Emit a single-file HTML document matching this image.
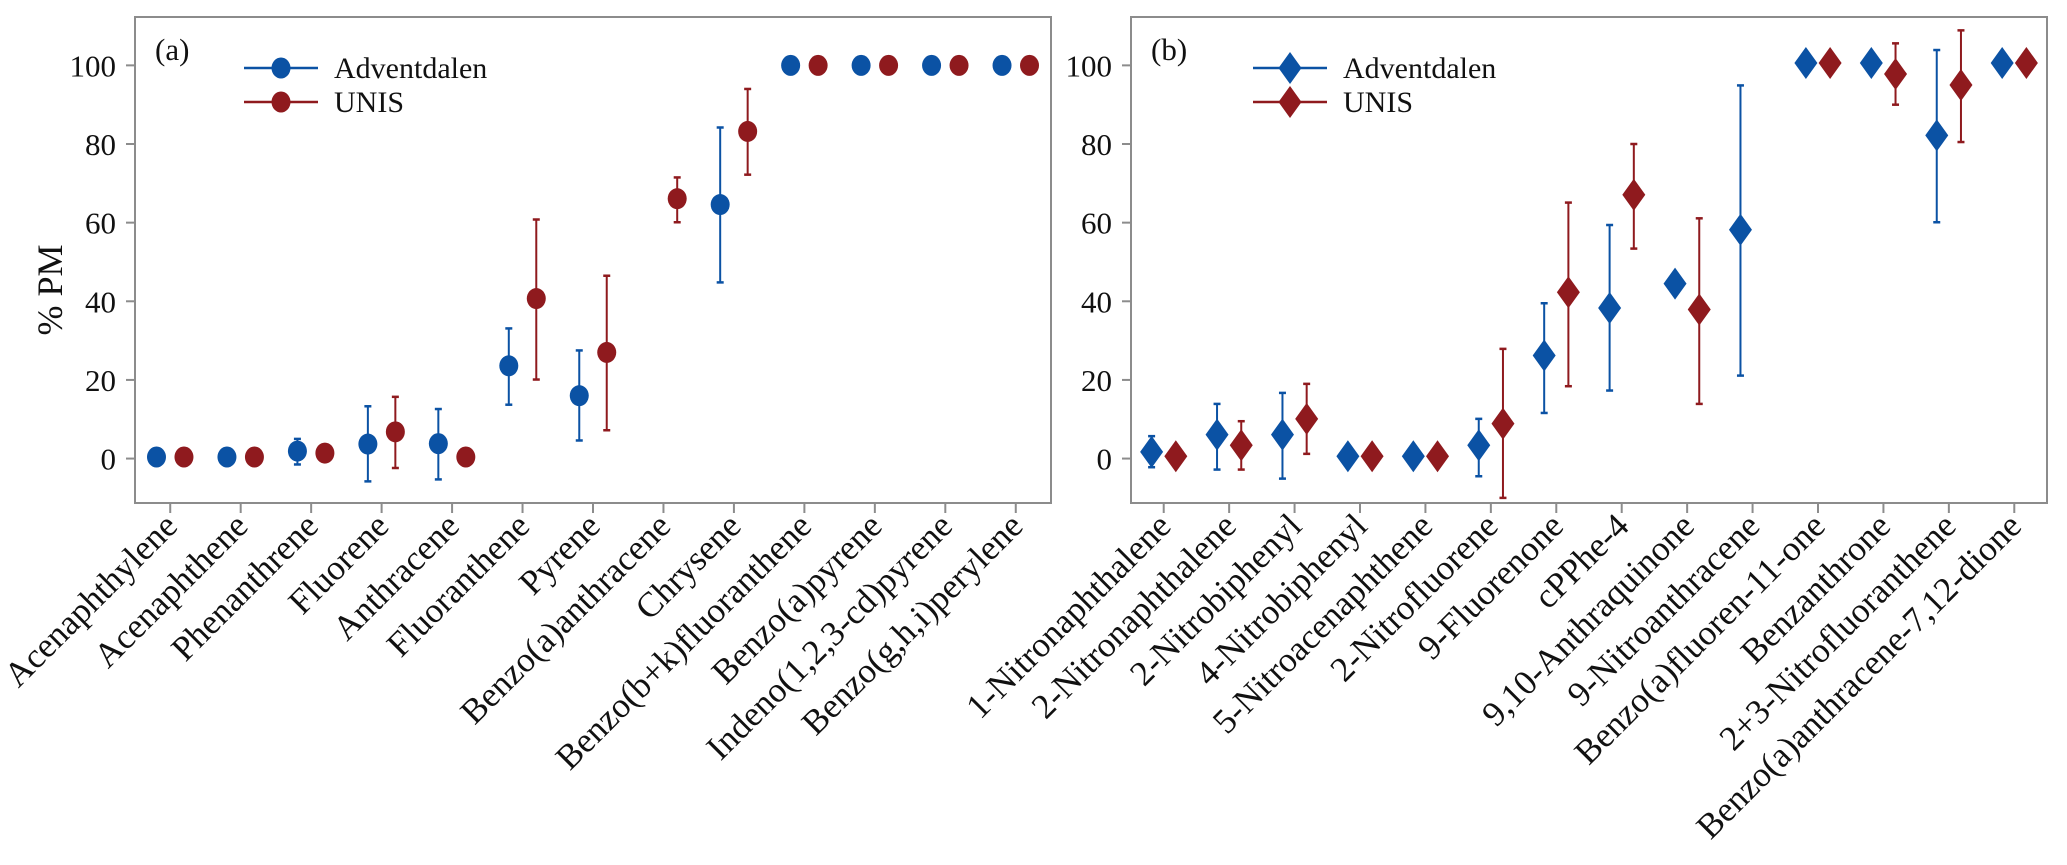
<!DOCTYPE html>
<html><head><meta charset="utf-8"><style>
html,body{margin:0;padding:0;background:#fff;}
svg{display:block;font-family:"Liberation Serif",serif;}
</style></head><body>
<svg id="chart" width="2067" height="865" viewBox="0 0 2067 865" xmlns="http://www.w3.org/2000/svg"></svg>
<script>
const catsA = ["Acenaphthylene","Acenaphthene","Phenanthrene","Fluorene","Anthracene","Fluoranthene","Pyrene","Benzo(a)anthracene","Chrysene","Benzo(b+k)fluoranthene","Benzo(a)pyrene","Indeno(1,2,3-cd)pyrene","Benzo(g,h,i)perylene"];
const advA = [0.4,0.4,1.9,3.7,3.8,23.6,16,null,64.6,100,100,100,100];
const advAHi = [null,null,5,13.3,12.6,33.1,27.5,null,84.2,null,null,null,null];
const advALo = [null,null,-1.5,-5.8,-5.3,13.7,4.6,null,44.8,null,null,null,null];
const unisA = [0.4,0.4,1.4,6.8,0.4,40.7,27,66.1,83.2,100,100,100,100];
const unisAHi = [null,null,null,15.7,null,60.8,46.5,71.5,94,null,null,null,null];
const unisALo = [null,null,null,-2.4,null,20.1,7.2,60.1,72.2,null,null,null,null];

const catsB = ["1-Nitronaphthalene","2-Nitronaphthalene","2-Nitrobiphenyl","4-Nitrobiphenyl","5-Nitroacenaphthene","2-Nitrofluorene","9-Fluorenone","cPPhe-4","9,10-Anthraquinone","9-Nitroanthracene","Benzo(a)fluoren-11-one","Benzanthrone","2+3-Nitrofluoranthene","Benzo(a)anthracene-7,12-dione"];
const advB = [1.7,6.1,6.1,0.6,0.6,3.4,26.2,38.3,44.5,58.2,100.6,100.6,82.2,100.6];
const advBHi = [5.7,13.9,16.7,null,null,10.1,39.5,59.4,null,94.9,null,null,103.9,null];
const advBLo = [-2.2,-2.8,-5.1,null,null,-4.5,11.6,17.3,null,21.1,null,null,60.1,null];
const unisB = [0.6,3.4,10.1,0.6,0.6,8.9,42.3,67.1,37.9,null,100.6,97.8,95,100.6];
const unisBHi = [null,9.5,19,null,null,27.9,65.1,80,61.1,null,null,105.6,108.9,null];
const unisBLo = [null,-2.8,1.2,null,null,-10,18.4,53.4,13.9,null,null,90,80.5,null];

const yTicks = [0,20,40,60,80,100];

const NS="http://www.w3.org/2000/svg";
const svg=document.getElementById('chart');
const BLUE="#0b52a4", RED="#8f1a1e", GRAY="#8c8c8c";
function mk(tag,attrs,parent){const e=document.createElementNS(NS,tag);for(const k in attrs)e.setAttribute(k,attrs[k]);(parent||svg).appendChild(e);return e;}
const TOP=17, BOT=503, YMIN=-11.3, YMAX=112.3;
function yS(v){return BOT-(v-YMIN)/(YMAX-YMIN)*(BOT-TOP);}

function marker(g,shape,cx,cy,color){
  let m;
  if(shape==='circle'){m=mk('ellipse',{cx:cx,cy:cy,rx:9.5,ry:10.5,fill:color},g);}
  else{m=mk('path',{d:`M${cx},${cy-16}L${cx+11.5},${cy}L${cx},${cy+16}L${cx-11.5},${cy}Z`,fill:color},g);}
  return m;
}

function panel(id,L,R,cats,series,shape,tag,labelX){
  const g=mk('g',{});
  
  
  const n=cats.length, step=(R-L)/n;
  const xS=i=>L+step*(i+0.5);
  const frame=mk('rect',{x:L,y:TOP,width:R-L,height:BOT-TOP,fill:'none',stroke:GRAY,'stroke-width':2},g);
  
  
  yTicks.forEach(t=>{
    const y=yS(t);
    mk('line',{x1:L-9,x2:L,y1:y,y2:y,stroke:GRAY,'stroke-width':2},g);
    const tx=mk('text',{x:L-19,y:y+11,'text-anchor':'end','font-size':31,fill:'#111'},g);
    tx.textContent=t;
    
    
  });
  cats.forEach((c,i)=>{
    const x=xS(i);
    mk('line',{x1:x,x2:x,y1:BOT,y2:BOT+10,stroke:GRAY,'stroke-width':2},g);
    const tx=mk('text',{x:x+9,y:BOT+25,'text-anchor':'end','font-size':35,fill:'#111',transform:`rotate(-45 ${x+9} ${BOT+25})`},g);
    tx.textContent=c;
    
    
  });
  series.forEach(s=>{
    const sg=mk('g',{},g);
    
    
    s.vals.forEach((v,i)=>{
      const x=xS(i)+s.off*step;
      if(s.hi[i]!=null){
        const y1=yS(s.hi[i]),y2=yS(s.lo[i]);
        mk('line',{x1:x,x2:x,y1:y1,y2:y2,stroke:s.color,'stroke-width':2},sg);
        mk('line',{x1:x-3.5,x2:x+3.5,y1:y1,y2:y1,stroke:s.color,'stroke-width':2.5},sg);
        mk('line',{x1:x-3.5,x2:x+3.5,y1:y2,y2:y2,stroke:s.color,'stroke-width':2.5},sg);
      }
      if(v!=null){
        const m=marker(sg,shape,x,yS(v),s.color);
        
        
      }
    });
  });
  const pl=mk('text',{x:L+20,y:60,'font-size':31,fill:'#111'},g);
  pl.textContent=tag;
  
  
  series.forEach((s,k)=>{
    const y=68+k*34;
    const lg=mk('g',{},g);
    
    
    mk('line',{x1:labelX,x2:labelX+74,y1:y,y2:y,stroke:s.color,'stroke-width':2.5},lg);
    marker(lg,shape,labelX+37,y,s.color);
    const t=mk('text',{x:labelX+90,y:y+10,'font-size':30,fill:'#111'},lg);
    t.textContent=s.name;
  });
}

panel('panel-a',135,1051,catsA,[
  {name:'Adventdalen',vals:advA,hi:advAHi,lo:advALo,color:BLUE,off:-0.195},
  {name:'UNIS',vals:unisA,hi:unisAHi,lo:unisALo,color:RED,off:0.195}],'circle','(a)',244);
panel('panel-b',1131,2047,catsB,[
  {name:'Adventdalen',vals:advB,hi:advBHi,lo:advBLo,color:BLUE,off:-0.185},
  {name:'UNIS',vals:unisB,hi:unisBHi,lo:unisBLo,color:RED,off:0.185}],'diamond','(b)',1253);

const yl=mk('text',{x:62,y:290,'text-anchor':'middle','font-size':36,fill:'#111',transform:'rotate(-90 62 290)'});
yl.textContent='% PM';


</script>
</body></html>
